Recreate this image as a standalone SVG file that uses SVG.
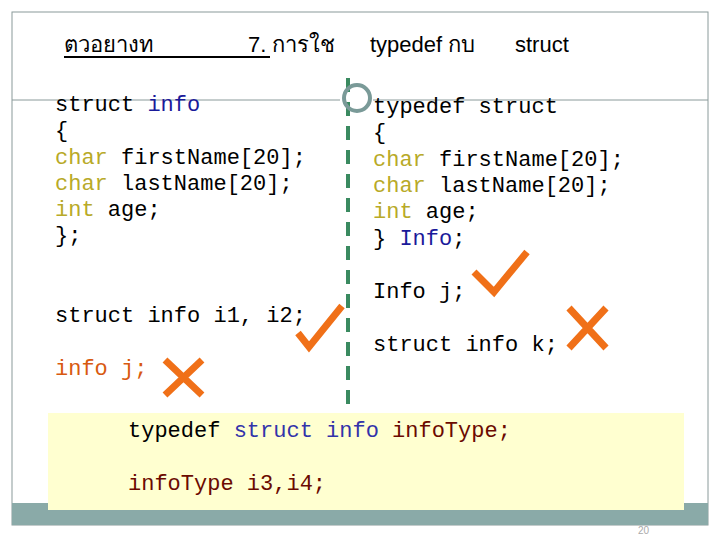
<svg xmlns="http://www.w3.org/2000/svg" width="720" height="540" viewBox="0 0 720 540">
<style>
.c{font-family:"Liberation Mono",monospace;font-size:22px;fill:#000}
.k{fill:#b8aa28}.b{fill:#1a1a9a}.r{fill:#6b0a00}.o{fill:#d85a10}
.t{font-family:"Liberation Sans","Noto Sans",sans-serif;font-size:22px}
.m{stroke:#f07018;stroke-width:7;fill:none;stroke-linecap:butt}
</style>
<rect x="0" y="0" width="720" height="540" fill="#fff"/>
<rect x="12" y="12" width="696" height="513" fill="none" stroke="#8a9a9a" stroke-width="1"/>
<rect x="12" y="503" width="696" height="22" fill="#8aaaa8"/>
<g id="title">
<text class="t" x="64" y="52">ตวอยางท</text>
<line x1="64" y1="57" x2="270" y2="57" stroke="#000" stroke-width="2"/>
<text class="t" x="248" y="52">7. การใช</text>
<text class="t" x="370" y="52">typedef กบ</text>
<text class="t" x="515" y="52">struct</text>
</g>
<g id="connectors">
<line x1="12" y1="100" x2="340" y2="100" stroke="#8a9a9a"/>
<line x1="373" y1="100" x2="708" y2="100" stroke="#8a9a9a"/>
<line x1="348" y1="78" x2="348" y2="412" stroke="#3a8a60" stroke-width="4" stroke-dasharray="14,10"/>
<circle cx="357" cy="98" r="13" fill="none" stroke="#7a9a98" stroke-width="4"/>
</g>
<g id="left">
<text class="c" x="55" y="111">struct <tspan class="b">info</tspan></text>
<text class="c" x="55" y="137">{</text>
<text class="c" x="55" y="164"><tspan class="k">char</tspan> firstName[20];</text>
<text class="c" x="55" y="190"><tspan class="k">char</tspan> lastName[20];</text>
<text class="c" x="55" y="216"><tspan class="k">int</tspan> age;</text>
<text class="c" x="55" y="242">};</text>
<text class="c" x="55" y="322">struct info i1, i2;</text>
<text class="c o" x="55" y="375">info j;</text>
</g>
<g id="right">
<text class="c" x="373" y="113">typedef struct</text>
<text class="c" x="373" y="139">{</text>
<text class="c" x="373" y="166"><tspan class="k">char</tspan> firstName[20];</text>
<text class="c" x="373" y="192"><tspan class="k">char</tspan> lastName[20];</text>
<text class="c" x="373" y="218"><tspan class="k">int</tspan> age;</text>
<text class="c" x="373" y="245">} <tspan class="b">Info</tspan>;</text>
<text class="c" x="373" y="298">Info j;</text>
<text class="c" x="373" y="351">struct info k;</text>
</g>
<g id="marks">
<path class="m" d="M474 272 L494 292 L527 252"/>
<path class="m" d="M298 333 L309 347 L342 306"/>
<path class="m" d="M569 308 L606 348 M606 308 L569 348"/>
<path class="m" d="M165 360 L202 395 M202 360 L165 395"/>
</g>
<g id="box">
<rect x="48" y="413" width="636" height="97" fill="#ffffd0"/>
<text class="c" x="128" y="437">typedef <tspan fill="#3333aa">struct info</tspan> <tspan class="r">infoType;</tspan></text>
<text class="c r" x="128" y="490">infoType i3,i4;</text>
</g>
<text x="638" y="534" font-family="Liberation Sans,sans-serif" font-size="10" fill="#aaa">20</text>
</svg>
